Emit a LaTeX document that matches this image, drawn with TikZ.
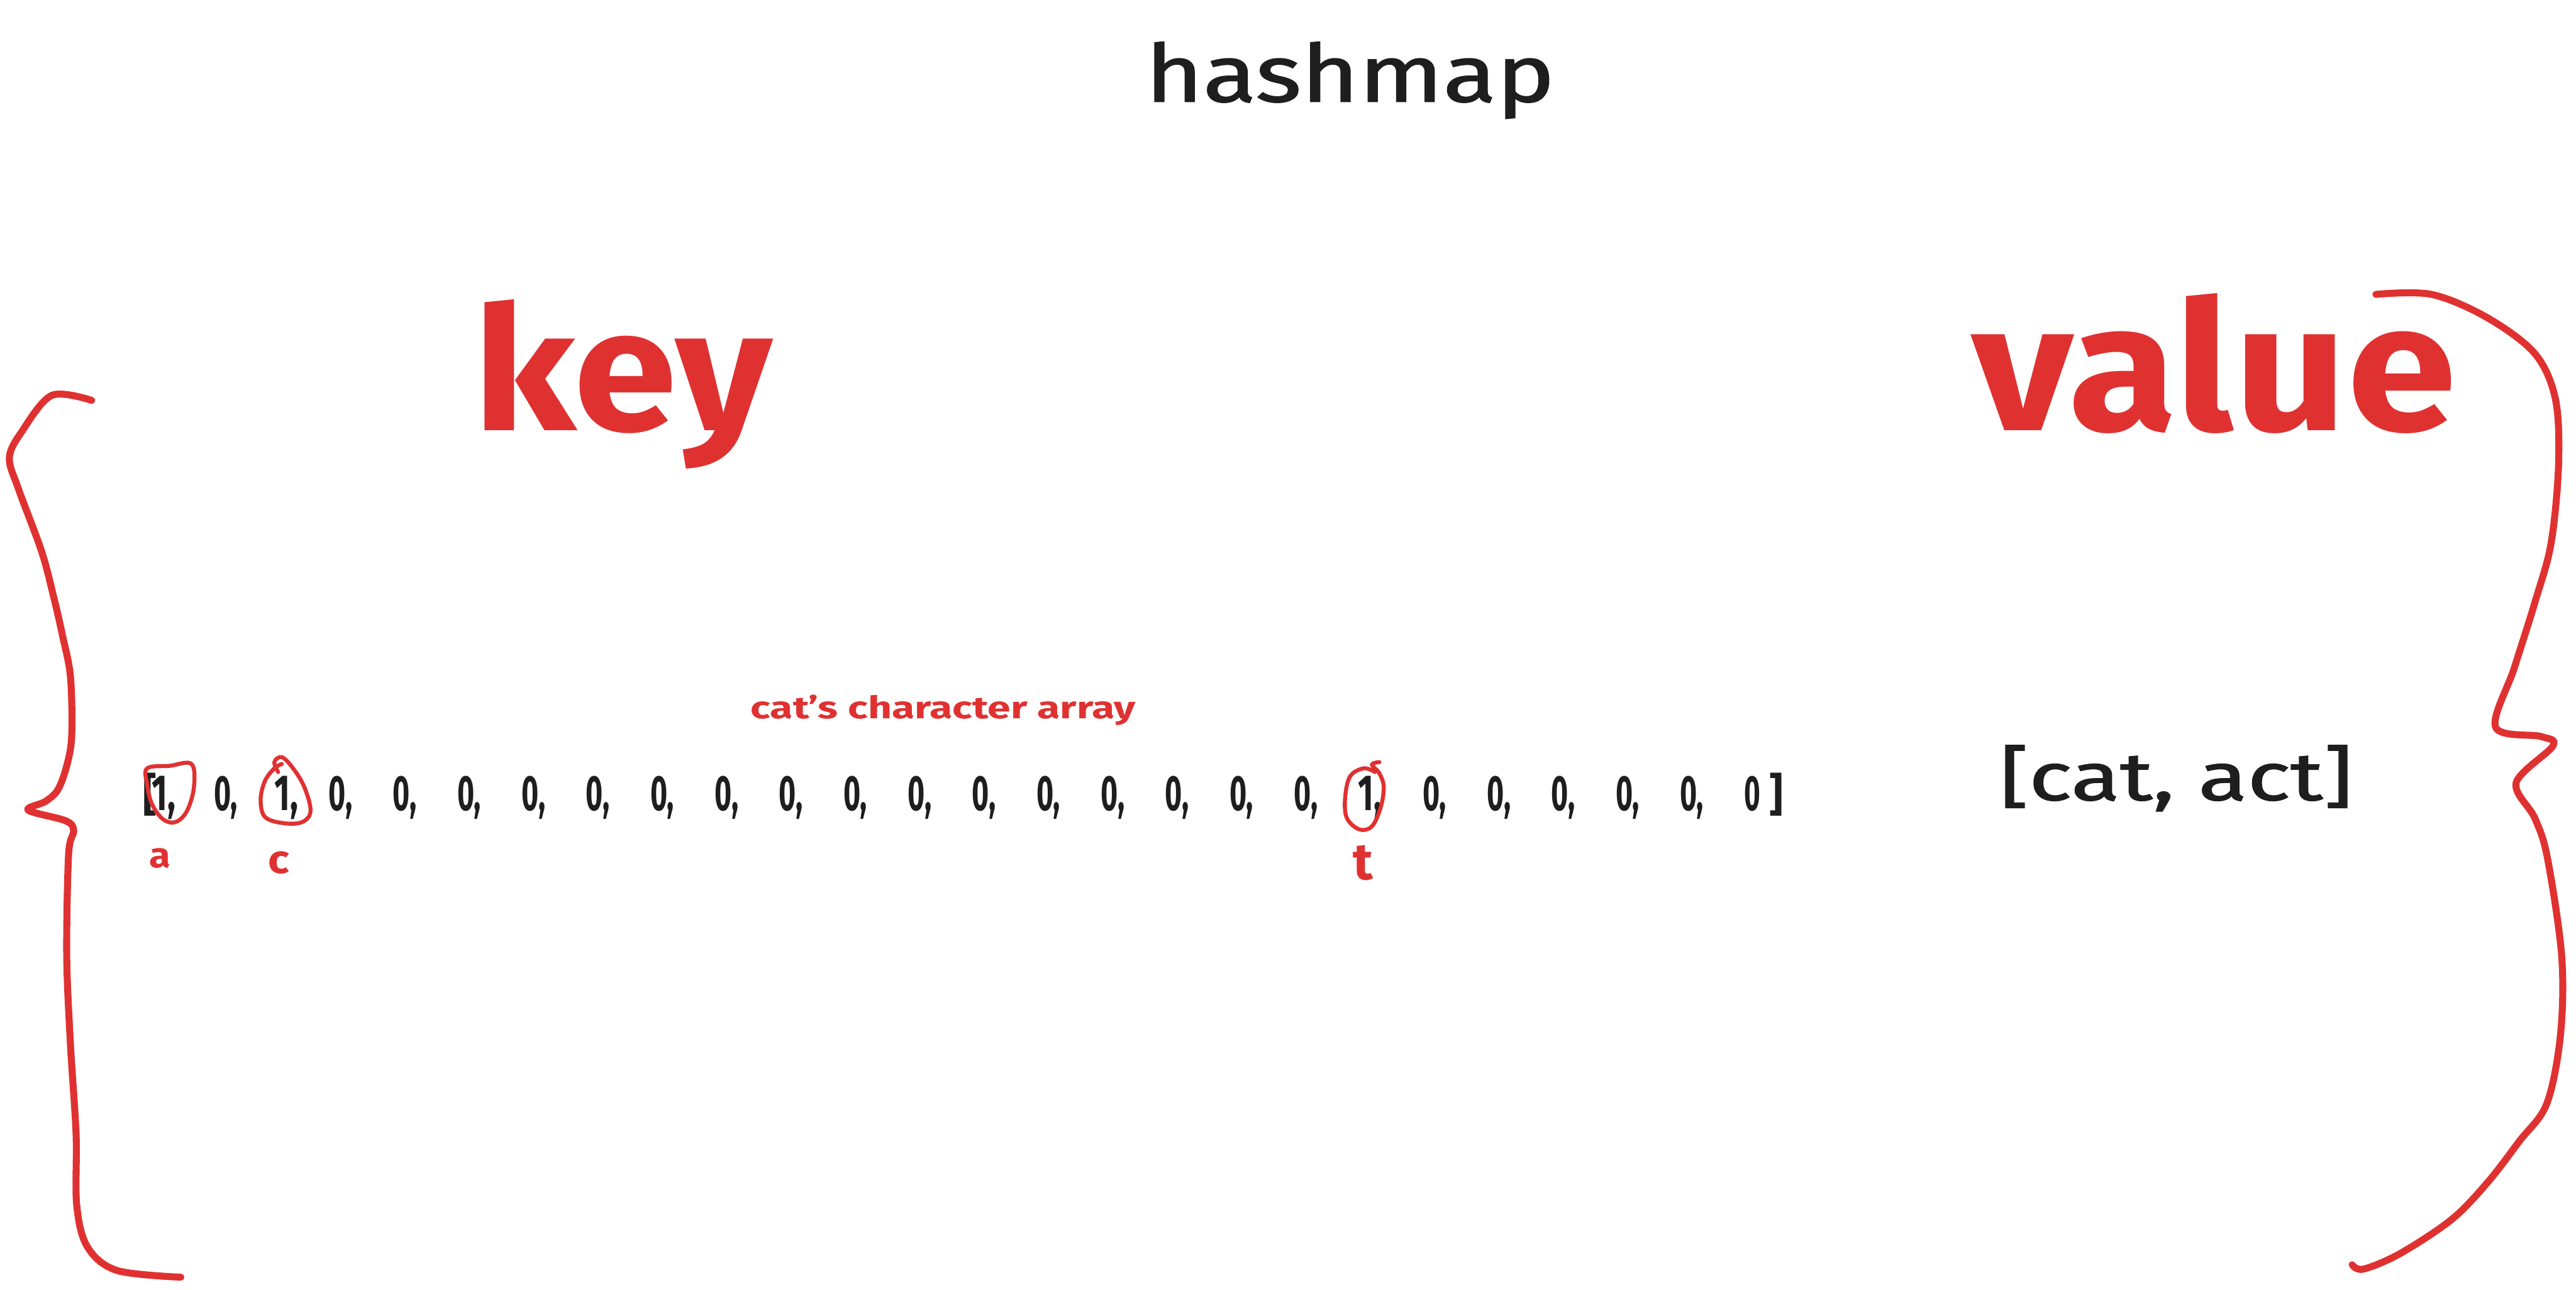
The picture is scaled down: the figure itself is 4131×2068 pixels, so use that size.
\documentclass[tikz,border=0pt]{standalone}
\usepackage{fontspec}
\setmainfont{Fira Sans}
\newfontfamily\medfont[FakeBold=1.2]{Fira Sans}
\usepackage{graphicx}
\definecolor{exred}{HTML}{E03131}
\definecolor{exblack}{HTML}{1E1E1E}
\tikzset{
  txt/.style={inner sep=0pt, outer sep=0pt, anchor=base west, text=exblack, font=\bfseries},
  lighttxt/.style={txt, font=\medfont},
  redtxt/.style={txt, text=exred},
  elem/.style={txt},
  ring/.style={draw=exred, line width=1.6pt, line join=round, line cap=round},
  brace/.style={draw=exred, line width=2.8pt, line join=round, line cap=round},
}
\begin{document}
\begin{tikzpicture}[x=0.25pt,y=-0.25pt]
\useasboundingbox (0,0) rectangle (4131,2068);
% titles
\node[lighttxt] (title) at (1837,163) {\resizebox{164pt}{24pt}{hashmap}};
\node[redtxt] (key) at (759,690) {\resizebox{119.75pt}{52.5pt}{key}};
\node[redtxt] (value) at (3162,690) {\resizebox{194.25pt}{55pt}{value}};
% caption
\node[redtxt] (caption) at (1204,1152) {\resizebox{154.25pt}{9.5pt}{cat's character array}};
% array
\node[elem] (lb) at (229,1299) {\resizebox{5.5pt}{15pt}{[}};
\node[elem] (e0) at (244,1299) {\resizebox{9.5pt}{13.75pt}{1,}};
\node[elem] (e1) at (343,1299) {\resizebox{9.5pt}{13.75pt}{0,}};
\node[elem] (e2) at (440,1299) {\resizebox{9.5pt}{13.75pt}{1,}};
\foreach \i in {3,...,25}{
  \ifnum\i=19 \def\elDigit{1}\else\def\elDigit{0}\fi
  \ifnum\i=25
    \node[elem] (e\i) at ({527+103.2*(\i-3)},1299) {\resizebox{6.5pt}{13.75pt}{\elDigit}};
  \else
    \node[elem] (e\i) at ({527+103.2*(\i-3)},1299) {\resizebox{9.5pt}{13.75pt}{\elDigit,}};
  \fi
}
\node[elem] (rb) at (2838,1299) {\resizebox{5.5pt}{15pt}{]}};
% value list
\node[lighttxt] (vals) at (3207,1283) {\resizebox{141.5pt}{22pt}{[cat, act]}};
% letter labels
\node[redtxt] (la) at (240,1391) {\resizebox{8.5pt}{7.75pt}{a}};
\node[redtxt] (lc) at (430,1400) {\resizebox{8.5pt}{8.75pt}{c}};
\node[redtxt] (lt) at (2170,1410) {\resizebox{8pt}{13.75pt}{t}};
% rings
\draw[ring] plot[smooth cycle, tension=0.6] coordinates {(236,1232) (272,1228) (307,1225) (311,1262) (300,1300) (282,1318) (262,1314) (244,1290) (236,1258)};
\draw[ring] plot[smooth, tension=0.6] coordinates {(446,1238) (440,1222) (452,1214) (470,1232) (488,1262) (498,1300) (485,1318) (455,1320) (425,1310) (418,1282) (425,1252) (440,1232) (452,1225)};
\draw[ring] plot[smooth, tension=0.6] coordinates {(2205,1238) (2187,1232) (2165,1245) (2157,1280) (2160,1312) (2180,1330) (2200,1325) (2214,1295) (2219,1262) (2212,1240) (2200,1226) (2212,1222)};
% braces
\draw[brace] plot[smooth, tension=0.55] coordinates {(147,642) (83,634) (35,692) (15,734) (30,785) (67,885) (87,961) (100,1018) (113,1085) (115,1180) (107,1228) (93,1266) (73,1285) (45,1299) (105,1316) (118,1332) (110,1370) (107,1532) (113,1675) (122,1818) (123,1932) (140,1999) (187,2037) (290,2048)};
\draw[brace] plot[smooth, tension=0.55] coordinates {(3810,472) (3899,472) (3988,509) (4065,567) (4098,640) (4103,745) (4091,871) (4065,966) (4032,1071) (4002,1166) (4075,1181) (4094,1196) (4035,1255) (4065,1312) (4085,1375) (4108,1533) (4106,1660) (4084,1770) (4040,1830) (3990,1895) (3932,1955) (3849,2010) (3790,2035) (3772,2028)};
\end{tikzpicture}
\end{document}
